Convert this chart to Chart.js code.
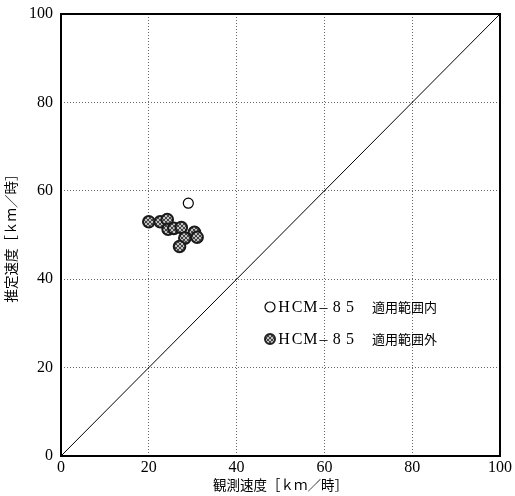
<!DOCTYPE html>
<html>
<head>
<meta charset="utf-8">
<script src="https://cdn.jsdelivr.net/npm/chart.js@4/dist/chart.umd.min.js"></script>
<style>
  html, body { margin: 0; padding: 0; background: #fff; }
  #wrap { width: 515px; height: 496px; }
</style>
</head>
<body>
<div id="wrap"><canvas id="SPEEDCHART"></canvas></div>
<script>
// observed vs estimated speed [km/h]
const inRangeObs = [29.0];
const inRangeEst = [57.2];
const outRangeObs = [20.0, 22.6, 24.2, 24.4, 25.7, 27.4, 30.4, 31.0, 28.2, 27.0];
const outRangeEst = [53.0, 53.0, 53.5, 51.3, 51.5, 51.7, 50.6, 49.5, 49.3, 47.4];
const diagonal = [0, 100];
const axisTicks = [0, 20, 40, 60, 80, 100];

const legendRows = [
  { code: 'HCM–85', text: '適用範囲内', hatched: false },
  { code: 'HCM–85', text: '適用範囲外', hatched: true }
];

function toPoints(xs, ys) {
  return xs.map((x, i) => ({ x: x, y: ys[i] }));
}

// small cross-hatch tile for the "outside range" markers
function makeHatch() {
  const c = document.createElement('canvas');
  c.width = 4; c.height = 4;
  const g = c.getContext('2d');
  g.fillStyle = '#c0c0c0';
  g.fillRect(0, 0, 4, 4);
  g.strokeStyle = '#444';
  g.lineWidth = 1;
  g.beginPath();
  g.moveTo(0, 0); g.lineTo(4, 4);
  g.moveTo(4, 0); g.lineTo(0, 4);
  g.stroke();
  return g.createPattern(c, 'repeat');
}
const hatch = makeHatch();

// box around the plot + legend inside the plot area
const frameAndLegend = {
  id: 'frameAndLegend',
  afterDraw(chart) {
    const { ctx, chartArea: a } = chart;
    ctx.save();
    ctx.strokeStyle = '#000';
    ctx.lineWidth = 2;
    ctx.strokeRect(a.left, a.top, a.right - a.left, a.bottom - a.top);

    legendRows.forEach((row, i) => {
      const mx = a.left + 209;
      const my = a.top + 293 + i * 32;
      ctx.beginPath();
      ctx.arc(mx, my, 5, 0, Math.PI * 2);
      if (row.hatched) {
        ctx.fillStyle = hatch;
        ctx.fill();
        ctx.lineWidth = 2;
        ctx.strokeStyle = '#222';
      } else {
        ctx.fillStyle = '#fff';
        ctx.fill();
        ctx.lineWidth = 1.2;
        ctx.strokeStyle = '#000';
      }
      ctx.stroke();

      // spaced, monospaced look for the code
      ctx.fillStyle = '#000';
      ctx.textBaseline = 'middle';
      ctx.textAlign = 'center';
      ctx.font = '16px "Liberation Serif", serif';
      let x = mx + 14;
      for (const ch of row.code) {
        ctx.fillText(ch, x, my + 1);
        x += 13.2;
      }
      ctx.textAlign = 'left';
      ctx.font = '13px "Noto Sans CJK JP", sans-serif';
      ctx.fillText(row.text, a.left + 311, my);
    });
    ctx.restore();
  }
};

const tickFont = { family: '"Liberation Serif", serif', size: 16 };
const titleFont = { family: '"Noto Sans CJK JP", sans-serif', size: 13.5 };

const ctx = document.getElementById('SPEEDCHART');

const speed_chart = new Chart(ctx, {
  type: 'scatter',
  data: {
    datasets: [
      {
        type: 'line',
        label: 'y = x',
        data: toPoints(diagonal, diagonal),
        borderColor: '#000',
        borderWidth: 1,
        pointRadius: 0,
        fill: false
      },
      {
        label: 'HCM-85 適用範囲外',
        data: toPoints(outRangeObs, outRangeEst),
        backgroundColor: hatch,
        borderColor: '#1a1a1a',
        borderWidth: 2,
        pointRadius: 5.8
      },
      {
        label: 'HCM-85 適用範囲内',
        data: toPoints(inRangeObs, inRangeEst),
        backgroundColor: '#fff',
        borderColor: '#000',
        borderWidth: 1.2,
        pointRadius: 5
      }
    ]
  },
  options: {
    responsive: true,
    maintainAspectRatio: false,
    animation: false,
    layout: { padding: { top: 14, right: 15, left: 0, bottom: 0 } },
    scales: {
      x: {
        type: 'linear',
        min: 0,
        max: 100,
        afterBuildTicks: (s) => { s.ticks = axisTicks.map(v => ({ value: v })); },
        afterFit: (s) => { s.height = 40; },
        ticks: { color: '#000', font: tickFont, padding: 2, maxRotation: 0 },
        grid: { color: '#666', lineWidth: 1, drawTicks: false },
        border: { display: false, dash: [1, 2] },
        title: {
          display: true,
          text: '観測速度［ｋｍ／時］',
          color: '#000',
          font: titleFont,
          padding: { top: 0, bottom: 3 }
        }
      },
      y: {
        type: 'linear',
        min: 0,
        max: 100,
        afterBuildTicks: (s) => { s.ticks = axisTicks.map(v => ({ value: v })); },
        afterFit: (s) => { s.width = 61; s.paddingTop = 0; s.paddingBottom = 0; },
        ticks: { color: '#000', font: tickFont, padding: 8 },
        grid: { color: '#666', lineWidth: 1, drawTicks: false },
        border: { display: false, dash: [1, 2] },
        title: {
          display: true,
          text: '推定速度［ｋｍ／時］',
          color: '#000',
          font: titleFont,
          padding: { top: 3, bottom: 0 }
        }
      }
    },
    plugins: {
      legend: { display: false },
      tooltip: { enabled: false }
    }
  },
  plugins: [frameAndLegend]
});
</script>
</body>
</html>
